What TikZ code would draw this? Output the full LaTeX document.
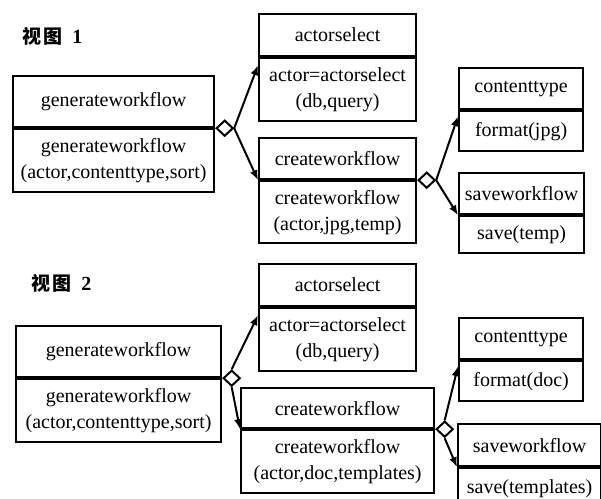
\documentclass[tikz,border=0pt]{standalone}
\usepackage{fontspec}
\setmainfont{Liberation Serif}
\newfontfamily\cjk{Noto Sans CJK SC}
\usepackage{tikz}
\usetikzlibrary{arrows.meta,positioning,shapes.geometric}

\begin{document}
\begin{tikzpicture}[
    x=0.5pt, y=-0.5pt,
    box/.style={draw, line width=1.1pt, align=center, inner sep=2pt, font=\fontsize{10pt}{13pt}\selectfont},
    head/.style={box, anchor=north west},
    body/.style={box},
    joint/.style={diamond, draw, fill=white, line width=1pt, inner sep=0pt, minimum width=8.5pt, minimum height=8pt},
    arrow/.style={-{Latex[length=5pt,width=4pt]}, line width=1pt},
    caption/.style={anchor=west, inner sep=0pt, font=\fontsize{10pt}{12pt}\selectfont\bfseries}
  ]
    \useasboundingbox (0,0) rectangle (601,499);

    % view 1
    \node[caption] (v1) at (22,36) {{\cjk\bfseries\fontsize{9.5pt}{10pt}\selectfont 视\kern1pt 图}\ \ 1};
    \node[head, minimum width=100.5pt, minimum height=25.5pt] (gen1) at (12,75) {generateworkflow};
    \node[body, minimum width=100.5pt, minimum height=31.5pt, below=0pt of gen1] (gen1m) {generateworkflow\\(actor,contenttype,sort)};
    \node[head, minimum width=78.5pt, minimum height=21pt] (as1) at (258,13) {actorselect};
    \node[body, minimum width=78.5pt, minimum height=31.5pt, below=0pt of as1] (as1m) {actor=actorselect\\(db,query)};
    \node[head, minimum width=78.5pt, minimum height=20.5pt] (cw1) at (258,137) {createworkflow};
    \node[body, minimum width=78.5pt, minimum height=31pt, below=0pt of cw1] (cw1m) {createworkflow\\(actor,jpg,temp)};
    \node[head, minimum width=62pt, minimum height=20.5pt] (ct1) at (458,67) {contenttype};
    \node[body, minimum width=62pt, minimum height=20pt, below=0pt of ct1] (ct1m) {format(jpg)};
    \node[head, minimum width=62.5pt, minimum height=20.5pt] (sw1) at (458,172) {saveworkflow};
    \node[body, minimum width=62.5pt, minimum height=18.5pt, below=0pt of sw1] (sw1m) {save(temp)};
    \node[joint, anchor=west] (d1) at (gen1.south east) {};
    \node[joint, anchor=west] (d2) at (cw1.south east) {};
    \draw[arrow] (d1.east) -- ([yshift=-4pt]as1m.north west);
    \draw[arrow] (d1.east) -- (cw1.south west);
    \draw[arrow] (d2.east) -- ([yshift=-3pt]ct1m.north west);
    \draw[arrow] (d2.east) -- (sw1.south west);

    % view 2
    \node[caption] (v2) at (31,283) {{\cjk\bfseries\fontsize{9.5pt}{10pt}\selectfont 视\kern1pt 图}\ \ 2};
    \node[head, minimum width=102.5pt, minimum height=25.5pt] (gen2) at (15,325) {generateworkflow};
    \node[body, minimum width=102.5pt, minimum height=31.5pt, below=0pt of gen2] (gen2m) {generateworkflow\\(actor,contenttype,sort)};
    \node[head, minimum width=78.5pt, minimum height=21pt] (as2) at (258,263) {actorselect};
    \node[body, minimum width=78.5pt, minimum height=31.5pt, below=0pt of as2] (as2m) {actor=actorselect\\(db,query)};
    \node[head, minimum width=96.5pt, minimum height=20pt] (cw2) at (240,387) {createworkflow};
    \node[body, minimum width=96.5pt, minimum height=31.5pt, below=0pt of cw2] (cw2m) {createworkflow\\(actor,doc,templates)};
    \node[head, minimum width=62pt, minimum height=20.5pt] (ct2) at (458,317) {contenttype};
    \node[body, minimum width=62pt, minimum height=20pt, below=0pt of ct2] (ct2m) {format(doc)};
    \node[head, minimum width=71.5pt, minimum height=21pt] (sw2) at (457,423) {saveworkflow};
    \node[body, minimum width=71.5pt, minimum height=20pt, below=0pt of sw2] (sw2m) {save(templates)};
    \node[joint, anchor=west] (d3) at (gen2.south east) {};
    \node[joint, anchor=west] (d4) at (cw2.south east) {};
    \draw[arrow] (d3.north) -- ([yshift=-4pt]as2m.north west);
    \draw[arrow] (d3.south) -- (cw2.south west);
    \draw[arrow] (d4.north) -- ([yshift=-3pt]ct2m.north west);
    \draw[arrow] (d4.south) -- (sw2.south west);
  \end{tikzpicture}
\end{document}
